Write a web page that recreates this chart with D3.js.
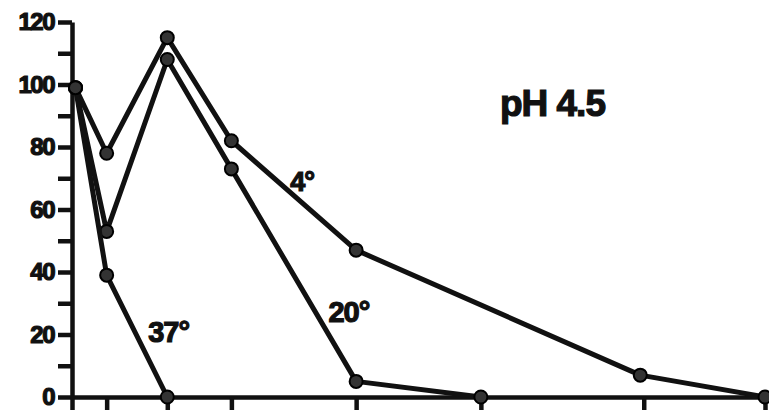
<!DOCTYPE html>
<html>
<head>
<meta charset="utf-8">
<script src="https://cdn.jsdelivr.net/npm/d3@7"></script>
<style>
  body { margin: 0; background: #fff; }
  text { font-family: "Liberation Sans", Arial, sans-serif; font-weight: bold; fill: #111; stroke: #111; stroke-width: 1.2px; }
</style>
</head>
<body>
<svg id="chart"></svg>
<script>
// values
var xTicks = [0, 1, 2.75, 4.6, 8.2, 11.8, 16.5, 20];
var yTicks = [0, 10, 20, 30, 40, 50, 60, 70, 80, 90, 100, 110, 120];

var t4 = [0.1, 1, 2.75, 4.6, 8.2, 16.4, 20];
var v4 = [99, 78, 115, 82, 47, 7, 0];
var t20 = [0.1, 1, 2.75, 4.6, 8.2, 11.8];
var v20 = [99, 53, 108, 73, 5, 0];
var t37 = [0.1, 1, 2.75];
var v37 = [99, 39, 0];

var labels = [
  { text: "4°", x: 6.3, y: 66, size: 27 },
  { text: "20°", x: 7.4, y: 24, size: 29 },
  { text: "37°", x: 2.2, y: 17.5, size: 29 },
  { text: "pH 4.5", x: 12.35, y: 90, size: 37 }
];

var drawGraph = function(w, h)
{
  var svg = d3.select("#chart")
              .attr("width", w)
              .attr("height", h);

  var margins = { top: 22, bottom: 18, left: 72, right: 4 };

  var xScale = d3.scaleLinear()
                 .domain([0, 20])
                 .range([margins.left, w - margins.right]);
  var yScale = d3.scaleLinear()
                 .domain([0, 120])
                 .range([h - margins.bottom, margins.top]);

  // axes
  var yAxis = d3.axisLeft(yScale)
                .tickValues(yTicks)
                .tickSize(14)
                .tickSizeOuter(0)
                .tickPadding(4)
                .tickFormat(function(d) { return d % 20 === 0 ? d : ""; });
  var gy = svg.append("g").classed("yAxis", true)
              .attr("transform", "translate(" + margins.left + ",0)")
              .call(yAxis);

  var xAxis = d3.axisBottom(xScale)
                .tickValues(xTicks)
                .tickSize(13)
                .tickSizeOuter(0)
                .tickFormat("");
  var gx = svg.append("g").classed("xAxis", true)
              .attr("transform", "translate(0," + yScale(0) + ")")
              .call(xAxis);

  [gx, gy].forEach(function(g) {
    g.selectAll("path, line").attr("stroke", "#111").attr("stroke-width", 4.5);
  });
  gy.selectAll("text")
    .attr("font-size", 24)
    .attr("letter-spacing", -1.5)
    .attr("fill", "#111");

  var drawLine = d3.line()
                   .x(function(d) { return xScale(d.t); })
                   .y(function(d) { return yScale(d.v); });

  var series = [[t4, v4], [t20, v20], [t37, v37]].map(function(s) {
    return s[0].map(function(t, i) { return { t: t, v: s[1][i] }; });
  });

  series.forEach(function(pts) {
    svg.append("path")
       .datum(pts)
       .attr("d", drawLine)
       .attr("fill", "none")
       .attr("stroke", "#111")
       .attr("stroke-width", 5)
       .attr("stroke-linejoin", "round");

    svg.selectAll(null)
       .data(pts)
       .enter()
       .append("circle")
       .attr("cx", function(d) { return xScale(d.t); })
       .attr("cy", function(d) { return yScale(d.v); })
       .attr("r", 6.5)
       .attr("fill", "#333")
       .attr("stroke", "#000")
       .attr("stroke-width", 2);
  });

  svg.selectAll(".lbl")
     .data(labels)
     .enter()
     .append("text")
     .attr("class", "lbl")
     .attr("x", function(d) { return xScale(d.x); })
     .attr("y", function(d) { return yScale(d.y); })
     .attr("font-size", function(d) { return d.size; })
     .attr("letter-spacing", -1)
     .text(function(d) { return d.text; });
}

drawGraph(769, 415);
</script>
</body>
</html>
